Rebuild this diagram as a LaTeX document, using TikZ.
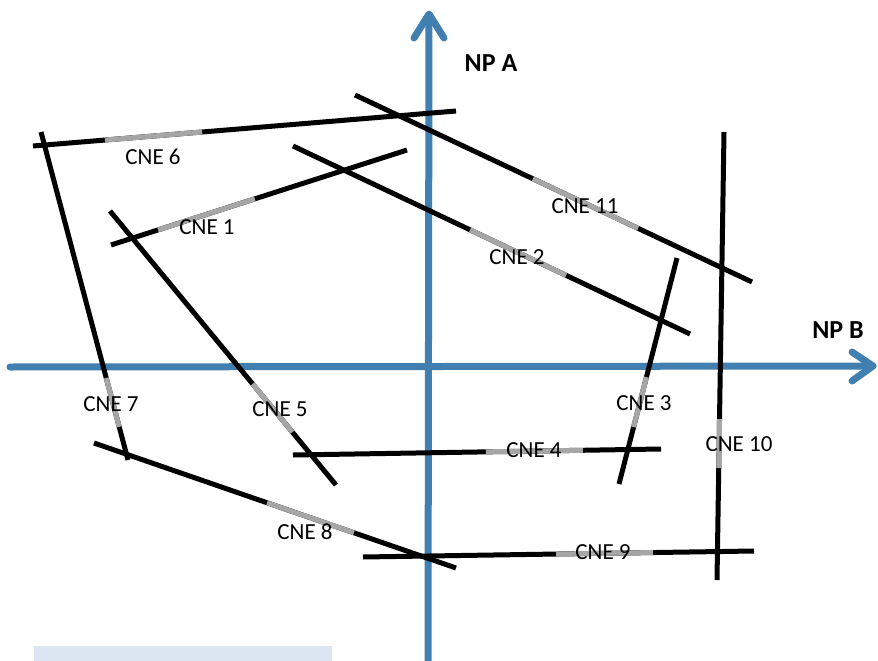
\documentclass[tikz,border=0pt]{standalone}
\usepackage{fontspec}
\setmainfont{Carlito}
\usetikzlibrary{calc}
\definecolor{axisblue}{RGB}{65,127,176}
\definecolor{segray}{RGB}{166,166,166}
\definecolor{barblue}{RGB}{220,230,242}
\tikzset{
  axisline/.style={draw=axisblue,line width=7pt,line cap=round,line join=round},
  cneline/.style={draw=black,line width=5pt},
  cnegray/.style={draw=segray,line width=5pt},
  cnelabel/.style={anchor=base,inner sep=0pt,font=\fontsize{23}{27}\selectfont},
  nplabel/.style={anchor=base,inner sep=0pt,font=\fontsize{26}{30}\selectfont\bfseries}
}
\newcommand{\cne}[5]{%
  % #1 name, #2 start, #3 end, #4 t1, #5 t2
  \coordinate (#1a) at #2;
  \coordinate (#1b) at #3;
  \draw[cneline] (#1a) -- (#1b);
  \draw[cnegray] ($(#1a)!#4!(#1b)$) -- ($(#1a)!#5!(#1b)$);
}
\begin{document}
\begin{tikzpicture}[x=1pt,y=-1pt]
\useasboundingbox (0,0) rectangle (878,661);
% light bar
\fill[barblue] (34,646) rectangle (332,661);
% axes
\coordinate (ybot) at (428,664);
\coordinate (ytip) at (429,14);
\coordinate (xleft) at (10,367);
\coordinate (xtip) at (873,366);
\draw[axisline,line cap=butt] (ybot) -- (ytip);
\draw[axisline] (xleft) -- (xtip);
\draw[axisline] (414,38) -- (ytip) -- (444,38);
\draw[axisline] (852,352) -- (xtip) -- (852,381);
% CNE lines
\cne{six}{(33,146)}{(456,111)}{0.170}{0.400}
\cne{seven}{(41,132)}{(128,460)}{0.750}{0.899}
\cne{one}{(111,245)}{(407,150)}{0.159}{0.486}
\cne{five}{(110,211)}{(336,485)}{0.631}{0.807}
\cne{two}{(293,146)}{(690,334)}{0.446}{0.688}
\cne{eleven}{(355,95)}{(752,282)}{0.448}{0.713}
\cne{three}{(677,258)}{(619,484)}{0.527}{0.748}
\cne{ten}{(724,132)}{(717,580)}{0.641}{0.750}
\cne{four}{(293,455)}{(661,449)}{0.524}{0.788}
\cne{nine}{(363,557)}{(754,551)}{0.494}{0.742}
\cne{eight}{(94,443)}{(456,568)}{0.478}{0.718}
% labels
\node[nplabel] (npa) at (491,72) {NP A};
\node[nplabel] (npb) at (838,338) {NP B};
\node[cnelabel] (l6) at (153,164) {CNE 6};
\node[cnelabel] (l1) at (207,234) {CNE 1};
\node[cnelabel] (l7) at (111,411) {CNE 7};
\node[cnelabel] (l5) at (280,416) {CNE 5};
\node[cnelabel] (l2) at (517,264) {CNE 2};
\node[cnelabel] (l11) at (585,213) {CNE 11};
\node[cnelabel] (l3) at (644,410) {CNE 3};
\node[cnelabel] (l10) at (739,451) {CNE 10};
\node[cnelabel] (l4) at (534,457) {CNE 4};
\node[cnelabel] (l9) at (603,559) {CNE 9};
\node[cnelabel] (l8) at (305,539) {CNE 8};
\end{tikzpicture}
\end{document}
